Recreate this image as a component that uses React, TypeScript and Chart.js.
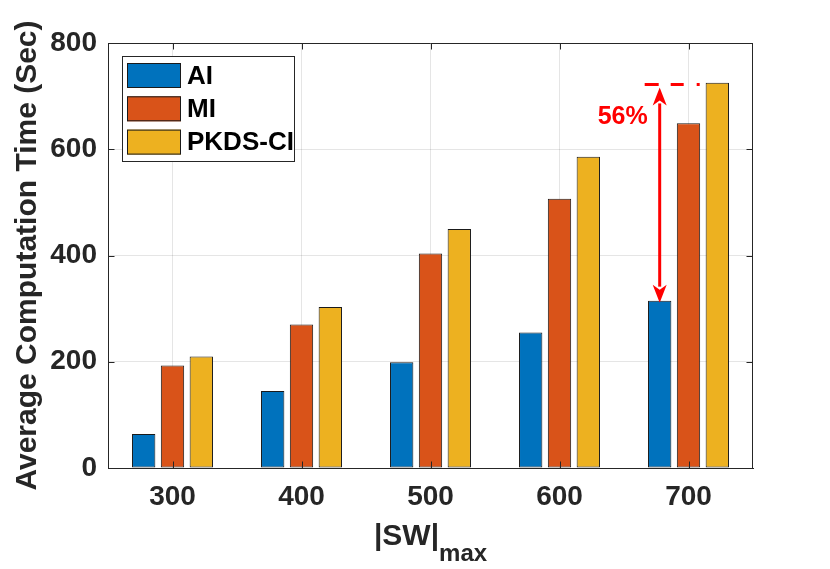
import { useEffect, useRef } from 'react';
import { Chart, registerables } from 'chart.js';

Chart.register(...registerables);

const categories = ['300', '400', '500', '600', '700'];
const aiValues = [64, 145, 199, 255, 315];
const miValues = [193, 270, 404, 507, 649];
const pkdsValues = [210, 303, 450, 586, 725];
const seriesNames = ['AI', 'MI', 'PKDS-CI'];
const seriesColors = ['#0072BD', '#D95319', '#EDB120'];
const yMin = 0;
const yMax = 800;
const yStep = 200;
const yTitle = 'Average Computation Time (Sec)';
const xTitleMain = '|SW|';
const xTitleSub = 'max';
const annotationTop = 722;
const annotationLabel = '56%';

const FONT = '"Liberation Sans", Arial, Helvetica, sans-serif';
const AXIS_COLOR = '#262626';
const GRID_COLOR = 'rgba(38,38,38,0.12)';

const decorPlugin = {
  id: 'decor',
  afterDatasetsDraw(chart: any) {
    const ctx = chart.ctx;
    const area = chart.chartArea;
    const xs = chart.scales.x;
    const ys = chart.scales.y;

    // box (top/right) and inside ticks
    ctx.save();
    ctx.strokeStyle = AXIS_COLOR;
    ctx.lineWidth = 1;
    ctx.beginPath();
    ctx.moveTo(area.left, area.top + 0.5);
    ctx.lineTo(area.right, area.top + 0.5);
    ctx.moveTo(area.right - 0.5, area.top);
    ctx.lineTo(area.right - 0.5, area.bottom);
    const tl = 6.5;
    ys.ticks.forEach((t: any) => {
      const y = Math.round(ys.getPixelForValue(t.value)) + 0.5;
      ctx.moveTo(area.left, y);
      ctx.lineTo(area.left + tl, y);
      ctx.moveTo(area.right, y);
      ctx.lineTo(area.right - tl, y);
    });
    categories.forEach((_c, i) => {
      const x = Math.round(xs.getPixelForValue(i)) + 0.5;
      ctx.moveTo(x, area.bottom);
      ctx.lineTo(x, area.bottom - tl);
      ctx.moveTo(x, area.top);
      ctx.lineTo(x, area.top + tl);
    });
    ctx.stroke();
    ctx.restore();

    // annotation
    const meta = chart.getDatasetMeta(0);
    const bar = meta.data[categories.length - 1];
    const ax = bar.x;
    const yTopLine = ys.getPixelForValue(annotationTop);
    const yBottom = ys.getPixelForValue(aiValues[aiValues.length - 1]);
    const xEnd = chart.getDatasetMeta(2).data[categories.length - 1].x - 2;
    ctx.save();
    ctx.strokeStyle = '#FF0000';
    ctx.fillStyle = '#FF0000';
    ctx.lineWidth = 3;
    ctx.setLineDash([14, 12, 13, 13, 3, 60]);
    ctx.beginPath();
    ctx.moveTo(ax - 15, yTopLine);
    ctx.lineTo(xEnd - 11, yTopLine);
    ctx.stroke();
    ctx.setLineDash([]);
    const tipTop = yTopLine + 3;
    const tipBot = yBottom + 2;
    const hl = 18;
    const hw = 7;
    ctx.beginPath();
    ctx.moveTo(ax, tipTop + hl - 2);
    ctx.lineTo(ax, tipBot - hl + 2);
    ctx.stroke();
    ctx.beginPath();
    ctx.moveTo(ax, tipTop);
    ctx.lineTo(ax - hw, tipTop + hl);
    ctx.lineTo(ax, tipTop + hl - 5);
    ctx.lineTo(ax + hw, tipTop + hl);
    ctx.closePath();
    ctx.fill();
    ctx.beginPath();
    ctx.moveTo(ax, tipBot);
    ctx.lineTo(ax - hw, tipBot - hl);
    ctx.lineTo(ax, tipBot - hl + 5);
    ctx.lineTo(ax + hw, tipBot - hl);
    ctx.closePath();
    ctx.fill();
    ctx.font = `bold 25px ${FONT}`;
    ctx.textAlign = 'center';
    ctx.textBaseline = 'middle';
    ctx.fillText(annotationLabel, ax - 37, ys.getPixelForValue(annotationTop) + 33);
    ctx.restore();

    // legend
    ctx.save();
    const lx = area.left + 14;
    const ly = area.top + 13;
    const lw = 173;
    const lh = 106;
    ctx.fillStyle = '#ffffff';
    ctx.fillRect(lx, ly, lw, lh);
    ctx.strokeStyle = AXIS_COLOR;
    ctx.lineWidth = 1;
    ctx.strokeRect(lx + 0.5, ly + 0.5, lw - 1, lh - 1);
    ctx.font = `bold 26px ${FONT}`;
    ctx.textAlign = 'left';
    ctx.textBaseline = 'middle';
    chart.data.datasets.forEach((ds: any, i: number) => {
      const sy = ly + 7 + i * 33.3;
      ctx.fillStyle = ds.backgroundColor;
      ctx.fillRect(lx + 5, sy, 54, 25);
      ctx.strokeStyle = '#1a1a1a';
      ctx.strokeRect(lx + 5.5, sy + 0.5, 53, 24);
      ctx.fillStyle = '#000000';
      ctx.fillText(ds.label, lx + 65, sy + 13.5);
    });
    ctx.restore();

    // x title with subscript
    ctx.save();
    ctx.fillStyle = AXIS_COLOR;
    ctx.textBaseline = 'alphabetic';
    ctx.textAlign = 'left';
    const mainFont = `bold 30px ${FONT}`;
    const subFont = `bold 24px ${FONT}`;
    ctx.font = mainFont;
    const w1 = ctx.measureText(xTitleMain).width;
    ctx.font = subFont;
    const w2 = ctx.measureText(xTitleSub).width;
    const cx = (area.left + area.right) / 2;
    const sx = cx - (w1 + w2) / 2;
    ctx.font = mainFont;
    ctx.fillText(xTitleMain, sx, area.bottom + 77);
    ctx.font = subFont;
    ctx.fillText(xTitleSub, sx + w1, area.bottom + 93);
    ctx.restore();
  },
};

export default function App() {
  const ref = useRef<HTMLCanvasElement | null>(null);

  useEffect(() => {
    if (!ref.current) return;
    const mk = (label: string, data: number[], color: string) => ({
      label,
      data,
      backgroundColor: color,
      borderColor: '#1a1a1a',
      borderWidth: 1,
      borderSkipped: false,
      categoryPercentage: 0.67,
      barPercentage: 0.81,
    });
    const chart = new Chart(ref.current, {
      type: 'bar',
      data: {
        labels: categories,
        datasets: [
          mk(seriesNames[0], aiValues, seriesColors[0]),
          mk(seriesNames[1], miValues, seriesColors[1]),
          mk(seriesNames[2], pkdsValues, seriesColors[2]),
        ],
      },
      options: {
        animation: false,
        responsive: false,
        devicePixelRatio: 1,
        layout: { padding: { top: 43, right: 77, left: 0, bottom: 0 } },
        plugins: {
          legend: { display: false },
          tooltip: { enabled: false },
        },
        scales: {
          x: {
            type: 'category',
            offset: true,
            grid: { offset: false, color: GRID_COLOR, drawTicks: false },
            border: { display: true, color: AXIS_COLOR, width: 1 },
            ticks: {
              color: AXIS_COLOR,
              font: { family: FONT, size: 28, weight: 'bold' },
              padding: 12,
              maxRotation: 0,
            },
            afterFit: (s: any) => {
              s.height = 101;
            },
          },
          y: {
            min: yMin,
            max: yMax,
            grid: { color: GRID_COLOR, drawTicks: false },
            border: { display: true, color: AXIS_COLOR, width: 1 },
            ticks: {
              stepSize: yStep,
              color: AXIS_COLOR,
              font: { family: FONT, size: 28, weight: 'bold' },
              padding: 11,
            },
            title: {
              display: true,
              text: yTitle,
              color: AXIS_COLOR,
              font: { family: FONT, size: 30, weight: 'bold' },
              padding: { top: 10, bottom: 0 },
            },
            afterFit: (s: any) => {
              s.width = 108;
            },
          },
        },
      },
      plugins: [decorPlugin],
    } as any);
    return () => chart.destroy();
  }, []);

  return (
    <div style={{ position: 'absolute', left: 0, top: 0, width: 830, height: 569, background: '#fff' }}>
      <canvas ref={ref} width={830} height={569} style={{ width: 830, height: 569 }} />
    </div>
  );
}
